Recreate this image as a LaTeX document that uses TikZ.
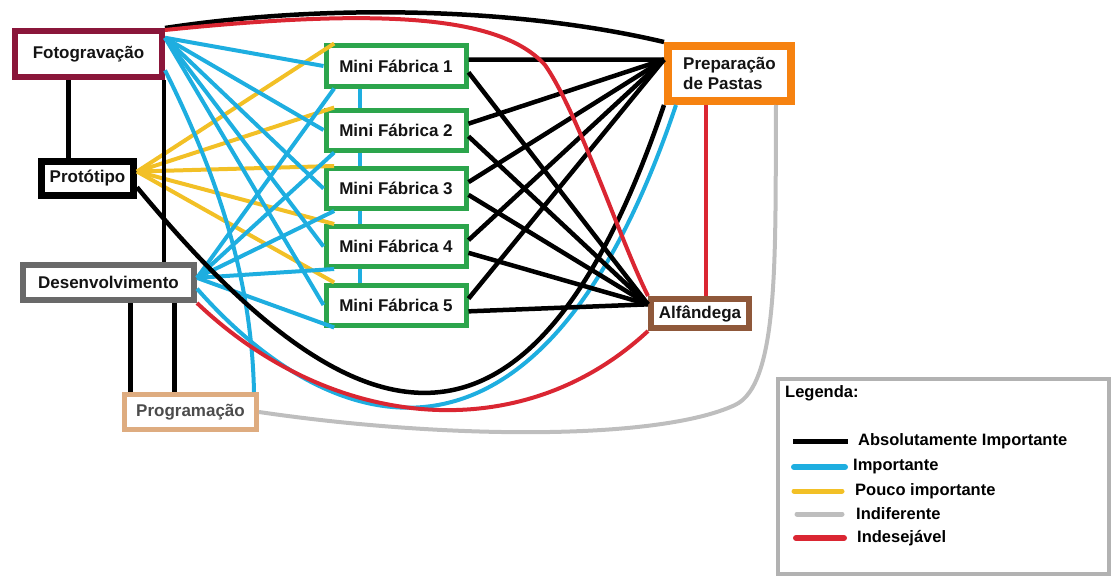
\documentclass[tikz,border=0pt]{standalone}
\usepackage{fontspec}
\setmainfont{Liberation Sans}
\definecolor{fotored}{RGB}{138,22,58}
\definecolor{prepor}{RGB}{246,130,16}
\definecolor{fabgreen}{RGB}{44,165,76}
\definecolor{alfbrown}{RGB}{143,88,58}
\definecolor{devgray}{RGB}{105,105,105}
\definecolor{progtan}{RGB}{222,172,128}
\definecolor{impblue}{RGB}{30,174,224}
\definecolor{poucoyel}{RGB}{242,192,38}
\definecolor{indesred}{RGB}{218,38,50}
\definecolor{indifgray}{RGB}{190,190,190}
\definecolor{leggray}{RGB}{178,178,178}
\begin{document}
\begin{tikzpicture}[x=1pt,y=-1pt,
    box/.style={draw,fill=white,inner sep=2pt,text=black!92,
      font=\fontsize{17}{20}\selectfont\bfseries},
    fab/.style={box,draw=fabgreen,line width=5pt,minimum width=140pt,minimum height=40pt},
    absol/.style={line width=4.5pt,black},
    imp/.style={line width=4pt,impblue},
    pouco/.style={line width=4pt,poucoyel},
    indif/.style={line width=4pt,indifgray},
    indes/.style={line width=4pt,indesred},
    legtext/.style={anchor=west,inner sep=0pt,font=\fontsize{16.5}{19}\selectfont\bfseries}]
  \useasboundingbox (0,0) rectangle (1119,578);
  \draw
    (88.5,54) node[box,draw=fotored,line width=6pt,minimum width=147pt,minimum height=46pt] (foto){Fotogravação}
    (87.5,178.5) node[box,line width=7pt,minimum width=92pt,minimum height=34pt] (proto){Protótipo}
    (108.5,282.5) node[box,draw=devgray,line width=6pt,minimum width=171pt,minimum height=35pt] (dev){Desenvolvimento}
    (190.5,412) node[box,draw=progtan,text=black!70,line width=5pt,minimum width=132pt,minimum height=35pt] (prog){Programação}
    (396,66) node[fab] (mf1){Mini Fábrica 1}
    (396,130) node[fab] (mf2){Mini Fábrica 2}
    (396,188.5) node[fab] (mf3){Mini Fábrica 3}
    (396,246.5) node[fab] (mf4){Mini Fábrica 4}
    (396,305) node[fab] (mf5){Mini Fábrica 5}
    (729.5,73.5) node[box,draw=prepor,line width=8pt,minimum width=123pt,minimum height=55pt,align=left] (prep){Preparação\\de Pastas}
    (700,313.5) node[box,draw=alfbrown,line width=6pt,minimum width=98pt,minimum height=29pt] (alf){Alfândega};
  \begin{scope}[pouco]
    \draw (proto.8) to (mf1.160);
    \draw (proto.8) to (mf2.160);
    \draw (proto.8) to (mf3.160);
    \draw (proto.8) to (mf4.160);
    \draw (proto.8) to (mf5.160);
  \end{scope}
  \begin{scope}[imp]
    \draw (foto.12) to (mf1.west);
    \draw (foto.12) to (mf2.west);
    \draw (foto.12) to (mf3.west);
    \draw (foto.12) to (mf4.west);
    \draw (foto.12) to (mf5.west);
    \draw (dev.3) to (mf1.200);
    \draw (dev.3) to (mf2.200);
    \draw (dev.3) to (mf3.200);
    \draw (dev.3) to (mf4.200);
    \draw (dev.3) to (mf5.200);
    \draw ([xshift=-36pt]mf1.south) to ([xshift=-36pt]mf2.north);
    \draw ([xshift=-36pt]mf2.south) to ([xshift=-36pt]mf3.north);
    \draw ([xshift=-36pt]mf3.south) to ([xshift=-36pt]mf4.north);
    \draw ([xshift=-36pt]mf4.south) to ([xshift=-36pt]mf5.north);
    \draw (foto.-12) .. controls (230,200) and (252,300) .. ([xshift=-5pt]prog.north east);
    \draw (dev.-4) .. controls (330,440) and (540,510) .. ([xshift=12pt]prep.south west);
  \end{scope}
  \begin{scope}[absol]
    \draw (foto.north east) .. controls (330,3) and (520,8) .. (prep.north west);
    \draw ([xshift=-20pt]foto.south) to ([xshift=-20pt]foto.south |- proto.north);
    \draw ([xshift=-1pt]foto.south east) to ([xshift=-1pt]foto.south east |- dev.north);
    \draw (proto.-10) .. controls (330,420) and (520,530) .. (prep.south west);
    \draw ([xshift=22pt]dev.south) to ([xshift=22pt]dev.south |- prog.north);
    \draw ([xshift=66pt]dev.south) to ([xshift=66pt]dev.south |- prog.north);
    \draw (mf1.5) to (prep.168);
    \draw (mf2.5) to (prep.168);
    \draw (mf3.5) to (prep.168);
    \draw (mf4.5) to (prep.168);
    \draw (mf5.5) to (prep.168);
    \draw (mf1.-5) to (alf.170);
    \draw (mf2.-5) to (alf.170);
    \draw (mf3.-5) to (alf.170);
    \draw (mf4.-5) to (alf.170);
    \draw (mf5.-5) to (alf.170);
  \end{scope}
  \begin{scope}[indes]
    \draw ([yshift=-2pt]foto.north east) .. controls (380,8) and (500,15) .. (545,65)
      .. controls (578,112) and (620,240) .. (alf.north west);
    \draw ([xshift=-24pt]prep.south) to ([xshift=-24pt]prep.south |- alf.north);
    \draw (dev.south east) .. controls (330,430) and (520,450) .. (alf.south west);
  \end{scope}
  \draw[indif] (prog.east) .. controls (450,440) and (660,440) .. (735,405)
    .. controls (780,384) and (775,250) .. ([xshift=-19pt]prep.south east);
  \draw (943.5,476.5) node[draw=leggray,line width=4pt,minimum width=331pt,minimum height=195pt] (legend){};
  \draw
    (785,393) node[legtext] (lgtitle){Legenda:}
    (858,441) node[legtext] (lgabs){Absolutamente Importante}
    (853,467) node[legtext] (lgimp){Importante}
    (855,491) node[legtext] (lgpouco){Pouco importante}
    (856,514) node[legtext] (lgindif){Indiferente}
    (857,538) node[legtext] (lgindes){Indesejável};
  \draw[absol,line width=5pt] ([xshift=-65pt]lgabs.west) to ([xshift=-10pt]lgabs.west);
  \draw[imp,line width=6pt,line cap=round] ([xshift=-59pt]lgimp.west) to ([xshift=-8pt]lgimp.west);
  \draw[pouco,line width=5pt,line cap=round] ([xshift=-61pt]lgpouco.west) to ([xshift=-13pt]lgpouco.west);
  \draw[indif,line width=5pt,line cap=round] ([xshift=-59pt]lgindif.west) to ([xshift=-14pt]lgindif.west);
  \draw[indes,line width=6pt,line cap=round] ([xshift=-61pt]lgindes.west) to ([xshift=-13pt]lgindes.west);
\end{tikzpicture}
\end{document}
